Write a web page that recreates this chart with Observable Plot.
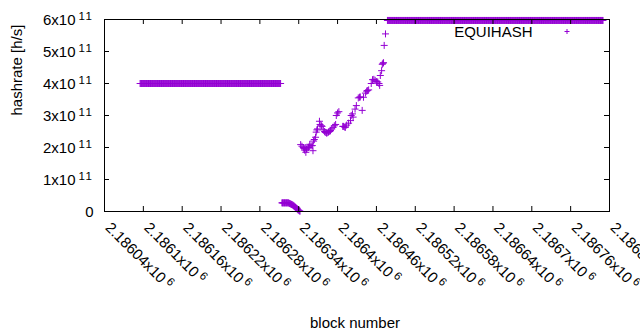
<!DOCTYPE html>
<html><head><meta charset="utf-8">
<script src="https://cdn.jsdelivr.net/npm/d3@7"></script>
<script src="https://cdn.jsdelivr.net/npm/@observablehq/plot@0.6"></script>
<style>
html,body{margin:0;padding:0;background:#fff;overflow:hidden;}
#chart svg{display:block;overflow:hidden;}
#chart svg text{font-family:'Liberation Sans', Arial, sans-serif !important;font-size:15px !important;}
#chart svg text tspan.sup{font-size:11.5px !important;letter-spacing:1.5px;}
</style></head><body><div id="chart"></div>
<script>
const seriesName = "EQUIHASH";
const xLabel = "block number";
const yLabel = "hashrate [h/s]";
const xTicks = [2186040, 2186100, 2186160, 2186220, 2186280, 2186340, 2186400, 2186460, 2186520, 2186580, 2186640, 2186700, 2186760, 2186820];
const xTickLabels = ["2.18604x10^6", "2.1861x10^6", "2.18616x10^6", "2.18622x10^6", "2.18628x10^6", "2.18634x10^6", "2.1864x10^6", "2.18646x10^6", "2.18652x10^6", "2.18658x10^6", "2.18664x10^6", "2.1867x10^6", "2.18676x10^6", "2.18682x10^6"];
const yTicks = [0, 1e11, 2e11, 3e11, 4e11, 5e11, 6e11];
const yTickLabels = ["0", "1x10^11", "2x10^11", "3x10^11", "4x10^11", "5x10^11", "6x10^11"];

// constant stretches: every block from start to end has the same hashrate
const flatStarts = [2186095, 2186477];
const flatEnds = [2186312, 2186810];
const flatValues = [4.0e11, 5.97e11];

// low stretch after the first plateau
const lowBlocks = [2186314, 2186315, 2186316, 2186317, 2186318, 2186319, 2186320, 2186321, 2186322, 2186323, 2186324,
  2186325, 2186326, 2186327, 2186328, 2186329, 2186330, 2186331, 2186332, 2186333, 2186334, 2186335, 2186336, 2186337,
  2186338, 2186339, 2186340, 2186341, 2186342];
const lowValues = [0.27e11, 0.27e11, 0.27e11, 0.27e11, 0.27e11, 0.27e11, 0.27e11, 0.27e11, 0.27e11, 0.27e11, 0.27e11,
  0.26e11, 0.25e11, 0.24e11, 0.23e11, 0.22e11, 0.21e11, 0.20e11, 0.18e11, 0.17e11, 0.15e11, 0.13e11, 0.11e11, 0.09e11,
  0.07e11, 0.05e11, 0.04e11, 0.02e11, 0.01e11];

// noisy rise
const riseBlocks = [2186343, 2186345, 2186347, 2186348, 2186349, 2186350, 2186351, 2186352, 2186353, 2186355, 2186356,
  2186357, 2186359, 2186361, 2186362, 2186363, 2186364, 2186366, 2186367, 2186368, 2186369, 2186372, 2186373, 2186375,
  2186376, 2186378, 2186380, 2186381, 2186383, 2186384, 2186386, 2186388, 2186389, 2186391, 2186393, 2186395, 2186397,
  2186398, 2186400, 2186402, 2186408, 2186409, 2186411, 2186412, 2186414, 2186417, 2186420, 2186421, 2186423, 2186424,
  2186427, 2186429, 2186432, 2186434, 2186435, 2186438, 2186440, 2186443, 2186445, 2186446, 2186448, 2186452, 2186454,
  2186456, 2186458, 2186460, 2186462, 2186464, 2186465, 2186466, 2186468, 2186469, 2186470, 2186471, 2186472, 2186474];
const riseValues = [2.09e11, 2.04e11, 2.00e11, 1.97e11, 1.92e11, 2.00e11, 1.85e11, 1.95e11, 1.98e11, 2.00e11, 2.02e11,
  2.10e11, 2.05e11, 2.06e11, 1.90e11, 2.20e11, 2.25e11, 2.32e11, 2.48e11, 2.55e11, 2.58e11, 2.82e11, 2.72e11, 2.68e11,
  2.66e11, 2.55e11, 2.50e11, 2.47e11, 2.45e11, 2.46e11, 2.48e11, 2.50e11, 2.53e11, 2.58e11, 2.63e11, 2.68e11, 2.72e11,
  3.00e11, 3.08e11, 3.12e11, 2.66e11, 2.66e11, 2.64e11, 2.63e11, 2.70e11, 2.76e11, 2.84e11, 3.00e11, 3.05e11, 2.95e11,
  3.20e11, 3.31e11, 3.55e11, 3.57e11, 3.58e11, 3.16e11, 3.57e11, 3.70e11, 3.76e11, 3.78e11, 3.80e11, 4.00e11, 4.12e11,
  4.13e11, 4.10e11, 4.06e11, 4.05e11, 4.00e11, 3.94e11, 4.25e11, 4.40e11, 4.60e11, 4.63e11, 4.65e11, 5.19e11, 5.55e11];

const points = [];
flatStarts.forEach((s, k) => {
  for (const b of d3.range(s, flatEnds[k] + 1)) points.push({block: b, rate: flatValues[k]});
});
lowBlocks.forEach((b, i) => points.push({block: b, rate: lowValues[i]}));
riseBlocks.forEach((b, i) => points.push({block: b, rate: riseValues[i]}));

const purple = "#9400d3";
const plus = {draw(ctx, size) {
  const r = Math.sqrt(size / Math.PI);
  ctx.moveTo(-r, 0); ctx.lineTo(r, 0); ctx.moveTo(0, -r); ctx.lineTo(0, r);
}};

const mL = 104, mR = 31, mT = 19, mB = 119, W = 640, H = 330;
const fw = W - mL - mR, fh = H - mT - mB;
const txt = {fill: "#000"};

const chart = Plot.plot({
  width: W, height: H,
  marginLeft: mL, marginRight: mR, marginTop: mT, marginBottom: mB,
  style: {color: "#000", background: "#fff"},
  x: {domain: [xTicks[0], xTicks[xTicks.length - 1]], axis: null},
  y: {domain: [yTicks[0], yTicks[yTicks.length - 1]], axis: null},
  marks: [
    Plot.dot(points, {x: "block", y: "rate", symbol: plus, r: 3.5, stroke: purple, fill: "none", strokeWidth: 1}),
    Plot.frame({stroke: "#000", strokeWidth: 1}),
    Plot.tickX(xTicks, {x: d => d, insetTop: fh - 5, stroke: "#000"}),
    Plot.tickX(xTicks, {x: d => d, insetBottom: fh - 5, stroke: "#000"}),
    Plot.tickY(yTicks, {y: d => d, insetRight: fw - 5, stroke: "#000"}),
    Plot.tickY(yTicks, {y: d => d, insetLeft: fw - 5, stroke: "#000"}),
    Plot.text(xTicks, {...txt, x: d => d, frameAnchor: "bottom", dy: 17, rotate: 45, textAnchor: "start", lineAnchor: "bottom", text: (d, i) => xTickLabels[i]}),
    Plot.text(yTicks, {...txt, y: d => d, frameAnchor: "left", dx: -11, textAnchor: "end", lineAnchor: "bottom", dy: 5.3, text: (d, i) => yTickLabels[i]}),
    Plot.text([xLabel], {...txt, frameAnchor: "bottom", dy: 116, dx: -2, lineAnchor: "bottom"}),
    Plot.text([yLabel], {...txt, frameAnchor: "left", dx: -83, rotate: -90, lineAnchor: "bottom"}),
    Plot.text([seriesName], {...txt, frameAnchor: "top-right", dx: -77, dy: 17.3, textAnchor: "end", lineAnchor: "bottom"}),
    Plot.dot([seriesName], {frameAnchor: "top-right", dx: -42.5, dy: 12, symbol: plus, r: 2.5, stroke: purple, fill: "none", strokeWidth: 1})
  ]
});

d3.select(chart).selectAll("text").each(function() {
  const t = this.textContent;
  const k = t.indexOf("^");
  if (k < 0) return;
  const sel = d3.select(this);
  sel.text(t.slice(0, k));
  sel.append("tspan").attr("class", "sup").attr("dx", 3).attr("dy", -5.3).text(t.slice(k + 1));
});

document.getElementById("chart").appendChild(chart);
</script>
</body></html>
